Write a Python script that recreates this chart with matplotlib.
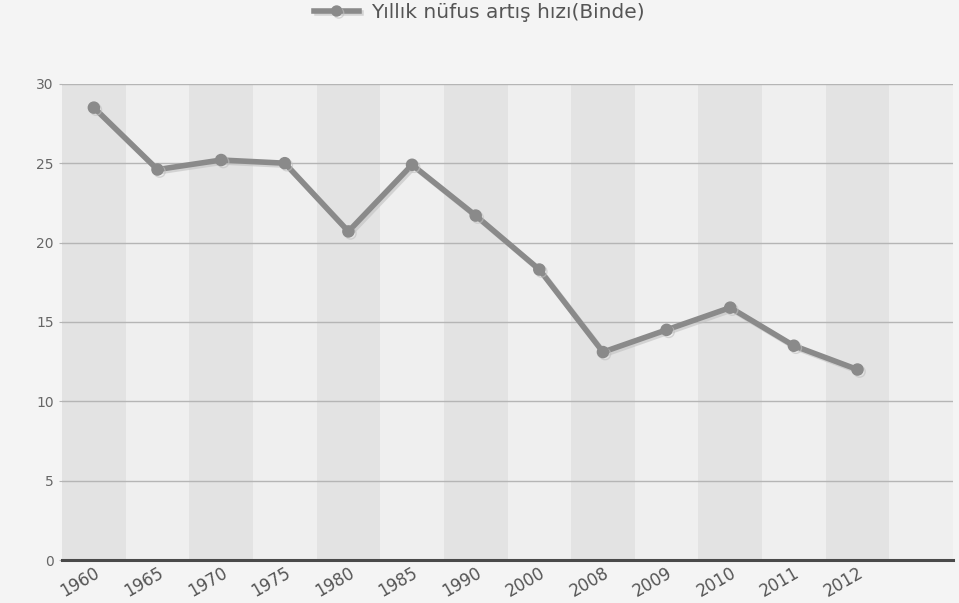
import matplotlib
matplotlib.use("Agg")
import matplotlib.pyplot as plt
import matplotlib.patheffects as pe
import matplotlib.transforms as mtrans
import numpy as np

plt.rcParams["font.family"] = "sans-serif"
plt.rcParams["font.sans-serif"] = ["DejaVu Sans"]

years = ["1960", "1965", "1970", "1975", "1980", "1985", "1990", "2000",
         "2008", "2009", "2010", "2011", "2012"]
values = [28.5, 24.6, 25.2, 25.0, 20.7, 24.9, 21.7, 18.3, 13.1, 14.5, 15.9, 13.5, 12.0]
series_name = "Yıllık nüfus artış hızı(Binde)"
yticks = [0, 5, 10, 15, 20, 25, 30]
FONT = "DejaVu Sans"

fig = plt.figure(figsize=(9.59, 6.03), dpi=100, facecolor="#f4f4f4")
ax = fig.add_axes([0.0647, 0.0713, 0.929, 0.7897])
ax.set_facecolor("#efefef")

n_bands = len(years) + 1
for i in range(n_bands):
    ax.axvspan(i - 0.5, i + 0.5, color="#e3e3e3" if i % 2 == 0 else "#efefef",
               lw=0, zorder=0)

for y in yticks[1:]:
    ax.axhline(y, color="#b5b5b5", lw=1.0, zorder=1)

x = np.arange(len(years))
line, = ax.plot(x, values, color="#8a8a8a", lw=4, marker="o", ms=8,
                markerfacecolor="#8a8a8a", markeredgecolor="#8a8a8a",
                zorder=3, label=series_name,
                path_effects=[pe.SimpleLineShadow(offset=(1.5, -1.5), shadow_color="#c0c0c0", alpha=0.6),
                              pe.Normal()])

ax.set_xlim(-0.5, n_bands - 0.5)
ax.set_ylim(0, 30)
ax.set_xticks(x)
ax.set_xticklabels(years, rotation=30, fontsize=12, color="#555555", family=FONT,
                   ha="right", va="top", rotation_mode="anchor")
offset = mtrans.ScaledTranslation(3 / 100, 0, fig.dpi_scale_trans)
for lab in ax.get_xticklabels():
    lab.set_transform(lab.get_transform() + offset)
ax.set_yticks(yticks)
ax.set_yticklabels([str(v) for v in yticks], fontsize=10, color="#666666", family=FONT)
ax.tick_params(axis="x", length=0, pad=3)
ax.tick_params(axis="y", length=2, color="#b5b5b5", pad=4)

for s in ["top", "right", "left"]:
    ax.spines[s].set_visible(False)
ax.spines["bottom"].set_color("#4a4a4a")
ax.spines["bottom"].set_linewidth(2.2)
ax.spines["bottom"].set_zorder(4)

leg = fig.legend(handles=[line], loc="upper center", bbox_to_anchor=(0.5, 1.025),
                 frameon=False, prop={"family": FONT, "size": 14.5},
                 handlelength=2.2, handletextpad=0.6, markerscale=0.9)
for t in leg.get_texts():
    t.set_color("#555555")

fig.savefig("out.png", dpi=100, facecolor=fig.get_facecolor())
